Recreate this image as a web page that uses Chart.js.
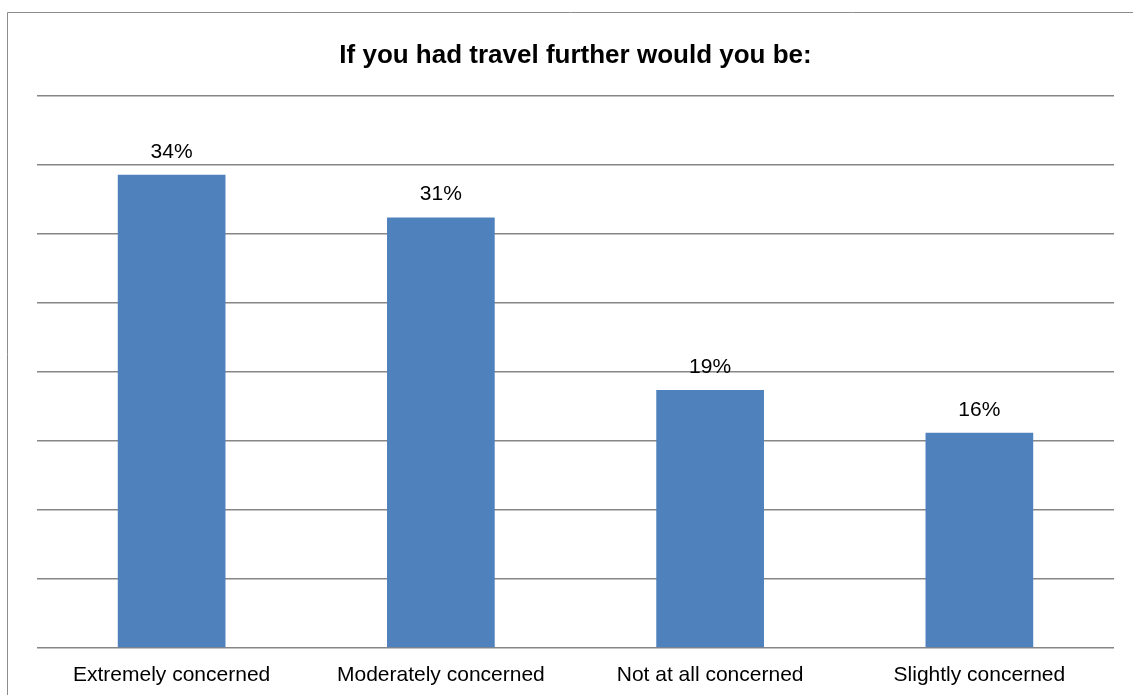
<!DOCTYPE html>
<html>
<head>
<meta charset="utf-8">
<script src="https://cdn.jsdelivr.net/npm/chart.js@4"></script>
<style>
  html, body { margin: 0; padding: 0; background: #fff; }
  #wrap { width: 1133px; height: 695px; position: relative; }
</style>
</head>
<body>
<div id="wrap"><canvas id="travel"></canvas></div>
<script>
// categories and values
var categories = ['Extremely concerned', 'Moderately concerned', 'Not at all concerned', 'Slightly concerned'];
var shares = [34.3, 31.2, 18.7, 15.6];
var shareLabels = ['34%', '31%', '19%', '16%'];
var titleText = 'If you had travel further would you be:';

// outer frame, like the spreadsheet chart border
const framePlugin = {
  id: 'frame',
  beforeDraw(chart) {
    const ctx = chart.ctx;
    ctx.save();
    ctx.strokeStyle = '#8c8c8c';
    ctx.lineWidth = 1;
    ctx.beginPath();
    ctx.moveTo(7.5, chart.height + 5);
    ctx.lineTo(7.5, 12.5);
    ctx.lineTo(chart.width + 5, 12.5);
    ctx.stroke();
    ctx.restore();
  }
};

// value labels over each bar
const valueLabelPlugin = {
  id: 'valueLabels',
  afterDatasetsDraw(chart) {
    const ctx = chart.ctx;
    const meta = chart.getDatasetMeta(0);
    ctx.save();
    ctx.font = '21px "Liberation Sans", Arial, sans-serif';
    ctx.fillStyle = '#000';
    ctx.textAlign = 'center';
    ctx.textBaseline = 'middle';
    meta.data.forEach(function(bar, i) {
      ctx.fillText(shareLabels[i], bar.x, bar.y - 23);
    });
    ctx.restore();
  }
};

Chart.defaults.font.family = '"Liberation Sans", Arial, sans-serif';
Chart.defaults.color = '#000';

new Chart('travel', {
  type: 'bar',
  data: {
    labels: categories,
    datasets: [{
      data: shares,
      backgroundColor: '#4f81bd',
      borderWidth: 0,
      categoryPercentage: 0.4,
      barPercentage: 1
    }]
  },
  options: {
    responsive: true,
    maintainAspectRatio: false,
    animation: false,
    layout: { padding: { left: 37, right: 19, top: 0, bottom: 7 } },
    scales: {
      x: {
        grid: { display: false, drawTicks: false },
        border: { display: false },
        ticks: { padding: 15, font: { size: 21 }, maxRotation: 0, autoSkip: false },
        afterFit(scale) { scale.height = 40; }
      },
      y: {
        min: 0,
        max: 40,
        ticks: { display: false, stepSize: 5 },
        grid: { color: '#868686', lineWidth: 1.5, drawTicks: false },
        border: { display: false }
      }
    },
    plugins: {
      legend: { display: false },
      tooltip: { enabled: false },
      title: {
        display: true,
        text: titleText,
        color: '#000',
        font: { size: 26, weight: 'bold' },
        padding: { top: 40, bottom: 25 }
      }
    }
  },
  plugins: [framePlugin, valueLabelPlugin]
});
</script>
</body>
</html>
